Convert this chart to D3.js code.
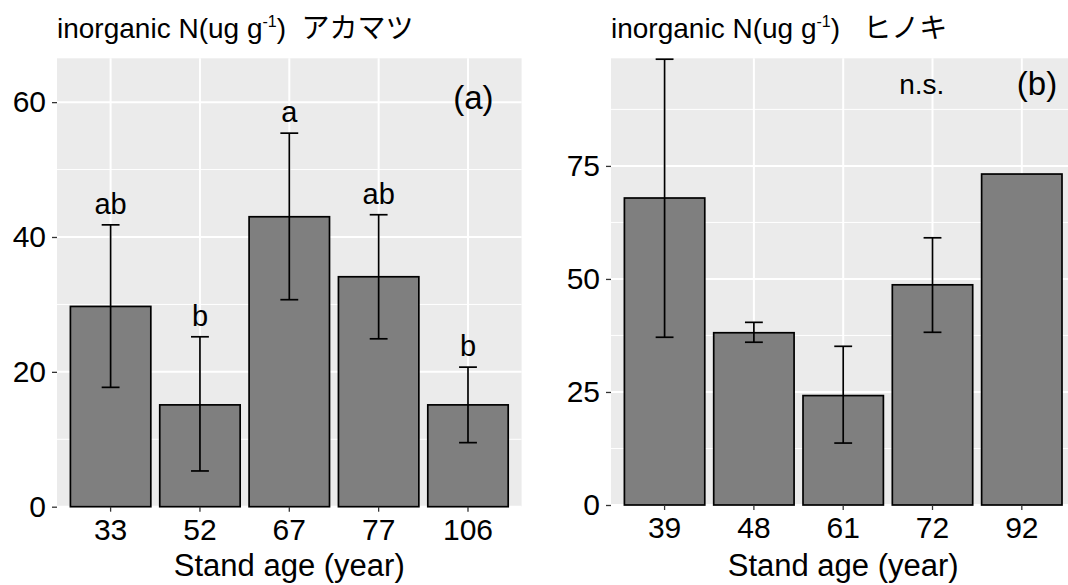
<!DOCTYPE html>
<html>
<head>
<meta charset="utf-8">
<script src="https://cdn.jsdelivr.net/npm/d3@7"></script>
<style>
  body { margin: 0; background: #fff; overflow: hidden; }
  text { font-family: "Liberation Sans", Arial, "Noto Sans CJK JP", sans-serif; }
</style>
</head>
<body>
<svg width="1068" height="585"></svg>
<script>
// アカマツ (a)
const agesA = ["33", "52", "67", "77", "106"];
const meanA = [29.7, 15.1, 43.0, 34.1, 15.1];
const lowA = [17.7, 5.3, 30.7, 24.9, 9.5];
const highA = [41.8, 25.2, 55.4, 43.3, 20.7];
const letterA = ["ab", "b", "a", "ab", "b"];
const ticksA = [0, 20, 40, 60];

// ヒノキ (b)
const agesB = ["39", "48", "61", "72", "92"];
const meanB = [67.9, 38.1, 24.2, 48.7, 73.2];
const lowB = [37.1, 36.0, 13.7, 38.2, null];
const highB = [98.6, 40.4, 35.1, 59.1, null];
const ticksB = [0, 25, 50, 75];

const svg = d3.select("svg");

function drawPanel(p) {
  const g = svg.append("g");
  const w = p.right - p.left, h = p.bottom - p.top;

  const x = d3.scaleBand().domain(p.ages).range([p.left, p.right])
    .paddingInner(0.1).paddingOuter(0.15);
  // position continue façon ggplot (1 = premier niveau)
  const xc = d3.scaleLinear().domain([0.4, p.ages.length + 0.6]).range([p.left, p.right]);
  const y = d3.scaleLinear().domain([0, p.ymax]).range([p.bottom, p.top]);
  const cx = d => x(d) + x.bandwidth() / 2;

  // fond + grille
  g.append("rect").attr("x", p.left).attr("y", p.top).attr("width", w).attr("height", h)
    .attr("fill", "#ebebeb");
  const step = p.ticks[1] - p.ticks[0];
  const minor = p.ticks.map(t => t + step / 2).filter(m => m < p.ymax);
  g.selectAll(".minor").data(minor).enter().append("line")
    .attr("x1", p.left).attr("x2", p.right)
    .attr("y1", d => y(d)).attr("y2", d => y(d))
    .attr("stroke", "#fff").attr("stroke-width", 1);
  g.selectAll(".major").data(p.ticks).enter().append("line")
    .attr("x1", p.left).attr("x2", p.right)
    .attr("y1", d => y(d)).attr("y2", d => y(d))
    .attr("stroke", "#fff").attr("stroke-width", 2);
  g.selectAll(".vmajor").data(p.ages).enter().append("line")
    .attr("x1", cx).attr("x2", cx)
    .attr("y1", p.top).attr("y2", p.bottom)
    .attr("stroke", "#fff").attr("stroke-width", 2);

  // barres
  g.selectAll(".bar").data(p.ages).enter().append("rect")
    .attr("x", d => x(d)).attr("width", x.bandwidth())
    .attr("y", (d, i) => y(p.mean[i]))
    .attr("height", (d, i) => y(0) - y(p.mean[i]))
    .attr("fill", "#7f7f7f").attr("stroke", "#000").attr("stroke-width", 1.7);

  // barres d'erreur
  const errs = p.ages.map((d, i) => ({ age: d, lo: p.low[i], hi: p.high[i] }))
    .filter(e => e.lo != null);
  const capW = x.step() * 0.2;
  const eg = g.selectAll(".err").data(errs).enter().append("g")
    .attr("stroke", "#000").attr("stroke-width", 1.7);
  eg.append("line")
    .attr("x1", d => cx(d.age)).attr("x2", d => cx(d.age))
    .attr("y1", d => y(d.lo)).attr("y2", d => y(d.hi));
  eg.append("line")
    .attr("x1", d => cx(d.age) - capW / 2).attr("x2", d => cx(d.age) + capW / 2)
    .attr("y1", d => y(d.hi)).attr("y2", d => y(d.hi));
  eg.append("line")
    .attr("x1", d => cx(d.age) - capW / 2).attr("x2", d => cx(d.age) + capW / 2)
    .attr("y1", d => y(d.lo)).attr("y2", d => y(d.lo));

  // lettres de significativité
  if (p.letters) {
    g.selectAll(".lett").data(p.ages).enter().append("text")
      .attr("x", cx)
      .attr("y", (d, i) => y(p.high[i]) - 11)
      .attr("text-anchor", "middle").attr("font-size", 29)
      .text((d, i) => p.letters[i]);
  }
  if (p.note) {
    g.append("text").attr("x", xc(p.note.x)).attr("y", y(p.note.y))
      .attr("text-anchor", "middle").attr("dominant-baseline", "central")
      .attr("font-size", 28).text(p.note.label);
  }
  g.append("text").attr("x", xc(p.tag.x)).attr("y", y(p.tag.y))
    .attr("text-anchor", "middle").attr("dominant-baseline", "central")
    .attr("font-size", 33).text(p.tag.label);

  // axes
  const ya = g.append("g").attr("transform", "translate(" + p.left + ",0)")
    .call(d3.axisLeft(y).tickValues(p.ticks).tickSize(5).tickPadding(6));
  const xa = g.append("g").attr("transform", "translate(0," + p.bottom + ")")
    .call(d3.axisBottom(x).tickSize(5).tickPadding(7));
  [ya, xa].forEach(a => {
    a.select(".domain").remove();
    a.selectAll("line").attr("stroke", "#333").attr("stroke-width", 1.3);
    a.selectAll("text").attr("font-size", 30).attr("fill", "#000")
      .style("font-family", "'Liberation Sans', Arial, sans-serif");
  });

  g.append("text").attr("x", (p.left + p.right) / 2).attr("y", 576)
    .attr("text-anchor", "middle").attr("font-size", 31).text("Stand age (year)");

  // titre avec exposant
  const t = g.append("text").attr("x", p.left).attr("y", 38).attr("font-size", 28)
    .style("white-space", "pre");
  t.append("tspan").text("inorganic N(ug g");
  t.append("tspan").attr("font-size", 16).attr("dy", -11).text("-1");
  t.append("tspan").attr("dy", 11).text(")" + p.gap);
  t.append("tspan").style("font-family", "'Noto Sans CJK JP', sans-serif").text(p.species);
}

drawPanel({
  ages: agesA, mean: meanA, low: lowA, high: highA, letters: letterA, ticks: ticksA,
  ymax: 66.5, left: 57, right: 521.6, top: 58.3, bottom: 506.7,
  tag: { label: "(a)", x: 5.06, y: 60.7 }, species: "アカマツ", gap: "  "
});
drawPanel({
  ages: agesB, mean: meanB, low: lowB, high: highB, letters: null, ticks: ticksB,
  ymax: 98.8, left: 611, right: 1075.4, top: 58.3, bottom: 505,
  tag: { label: "(b)", x: 5.17, y: 93.3 }, note: { label: "n.s.", x: 3.88, y: 93 },
  species: "ヒノキ", gap: "   "
});
</script>
</body>
</html>
